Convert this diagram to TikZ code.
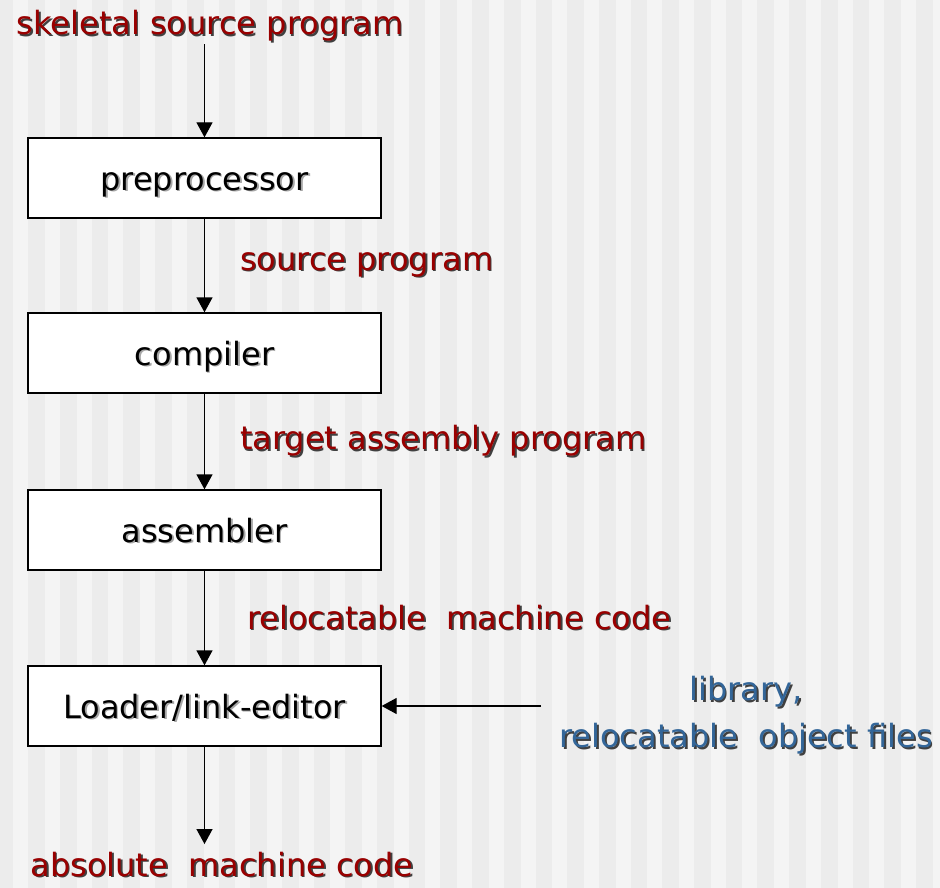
\documentclass[tikz,border=0pt]{standalone}
\usepackage{fontspec}
\setmainfont{DejaVu Sans}
\usetikzlibrary{arrows.meta,positioning}
\definecolor{stripelight}{HTML}{F4F4F4}
\definecolor{stripedark}{HTML}{ECECEC}
\definecolor{labelred}{HTML}{990000}
\definecolor{labelblue}{HTML}{336699}
\newcommand{\shadowtext}[2]{\leavevmode\rlap{\kern1.7pt\raisebox{-1.7pt}{\color{#1}#2}}#2}

\begin{document}
\begin{tikzpicture}[x=1pt,y=-1pt,>={Triangle[width=16pt,length=15pt]},line width=1.3pt,
  stage/.style={rectangle,draw,fill=white,minimum width=353pt,minimum height=80pt,
    inner sep=0pt,text height=28pt,text depth=4pt,font=\fontsize{32}{38}\selectfont},
  flow text/.style={font=\fontsize{32}{38}\selectfont,text=labelred,inner sep=0pt}]

  % striped background
  \useasboundingbox (0,0) rectangle (940,888);
  \fill[stripelight] (0,0) rectangle (940,888);
  \foreach \i in {0,...,29}
    \fill[stripedark] ({max(0,-3.4+31.7*\i)},0) rectangle ({min(940,13.3+31.7*\i)},888);

  \node[flow text,anchor=base] (src) at (210,35) {\shadowtext{black!75}{skeletal source program}};
  \node[stage] (pre)  at (204.5,178) {\shadowtext{black!35}{preprocessor}};
  \node[stage] (comp) at (204.5,353) {\shadowtext{black!35}{compiler}};
  \node[stage] (asm)  at (204.5,530) {\shadowtext{black!35}{assembler}};
  \node[stage] (load) at (204.5,706) {\shadowtext{black!35}{Loader/link-editor}};
  \node[flow text,text=labelblue,align=center,font=\fontsize{32}{47}\selectfont] (lib) at (746,716)
    {\shadowtext{black!75}{library,}\\\shadowtext{black!75}{relocatable\ \ object files}};
  \node[flow text,anchor=base] (out) at (222,876) {\shadowtext{black!75}{absolute\ \ machine code}};
  \coordinate (libin) at (541,706);

  \path[->,every node/.style={flow text,anchor=west,xshift=35pt}]
    (pre.north |- src.south) edge (pre)
    (pre) edge node {\shadowtext{black!75}{source program}} (comp)
    (comp) edge node {\shadowtext{black!75}{target assembly program}} (asm)
    (asm) edge node[xshift=7pt] {\shadowtext{black!75}{relocatable\ \ machine code}} (load)
    (libin) edge (load)
    (load) edge[shorten >=7pt] (load.south |- out.north);
\end{tikzpicture}
\end{document}
